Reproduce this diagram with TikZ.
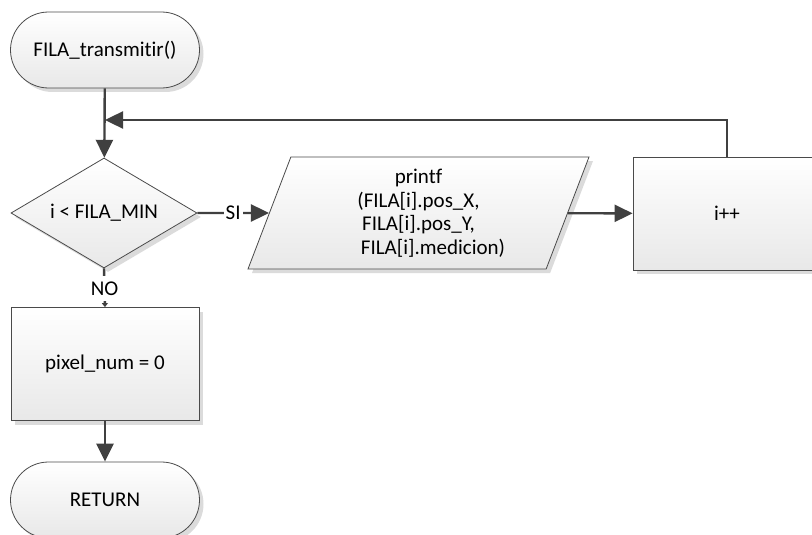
\documentclass[tikz,border=0pt]{standalone}
\usepackage{fontspec}
\setmainfont{Carlito}[Ligatures=CommonOff]
\usetikzlibrary{shapes.geometric,shapes.misc,arrows.meta,shadows}
\definecolor{edge}{HTML}{404040}
\definecolor{shapeline}{HTML}{4A4A4A}
\begin{document}
\begin{tikzpicture}[x=1pt,y=-1pt,
  font=\fontsize{21}{23.5}\selectfont,
  box/.style={draw=shapeline, line width=0.8pt, top color=white, bottom color=black!9,
    drop shadow={shadow xshift=4pt, shadow yshift=-4pt, fill=black, opacity=0.14},
    inner sep=0pt, text=black},
  terminal/.style={box, rounded rectangle, minimum width=189pt, minimum height=76pt},
  process/.style={box, rectangle, minimum width=188pt, minimum height=113pt},
  decision/.style={box, diamond, aspect=1.69, minimum width=186pt, minimum height=110pt},
  iobox/.style={box, trapezium, trapezium left angle=64, trapezium right angle=116,
    trapezium stretches body, minimum width=341pt, minimum height=112pt, align=center},
  conn/.style={draw=edge, line width=2.4pt, -{Triangle[length=18pt,width=17pt]}},
  lbl/.style={fill=white, inner xsep=2pt, inner ysep=1pt},
]
\useasboundingbox (0,0) rectangle (812,535);

% shapes
\node[terminal] (start) at (105,50) {FILA\_transmitir()};
\node[decision] (dec) at (104,213) {i < FILA\_MIN};
\node[iobox] (io) at (418.5,213) {printf\\(FILA[i].pos\_X,\\FILA[i].pos\_Y,\\\hspace*{29pt}FILA[i].medicion)};
\node[process] (inc) at (727,213.5) {i++};
\node[process] (pix) at (105,364) {pixel\_num = 0};
\node[terminal] (ret) at (105,500) {RETURN};
\coordinate (join) at (105,120);

% connectors
\draw[conn] (start) -- (dec);
\draw[conn] (dec) -- node[lbl] {SI} (io);
\draw[conn] (io) -- (inc);
\draw[conn] (inc.north) |- (join);
\draw[conn, -{Triangle[length=4pt,width=6pt]}] (dec.south) -- node[lbl, inner ysep=6pt, pos=0.52] {NO} (pix.north);
\draw[conn] (pix) -- (ret);
\end{tikzpicture}
\end{document}
